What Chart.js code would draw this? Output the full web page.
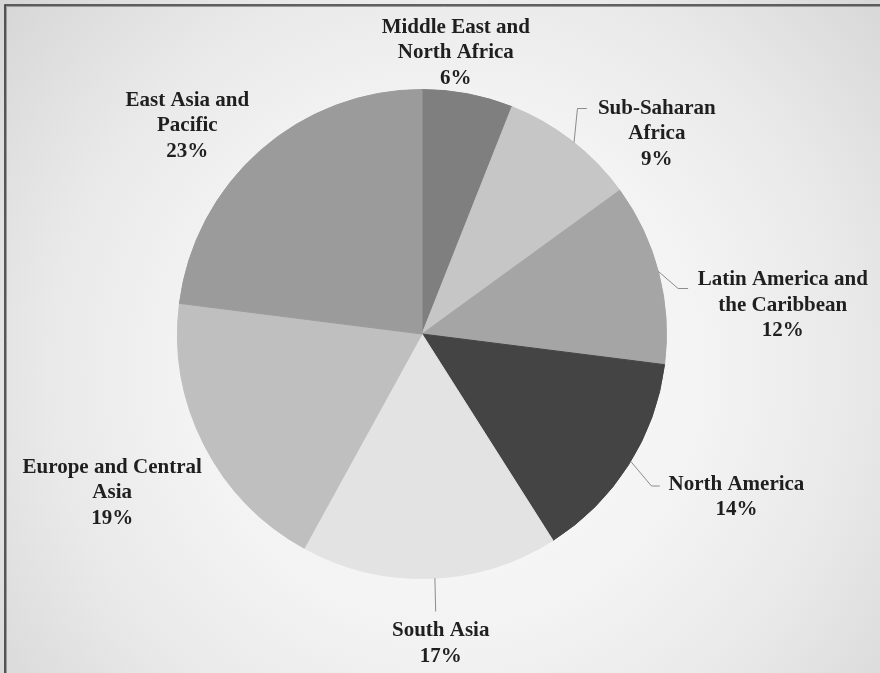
<!DOCTYPE html>
<html>
<head>
<meta charset="utf-8">
<script src="https://cdn.jsdelivr.net/npm/chart.js@4/dist/chart.umd.min.js"></script>
<style>
  html, body { margin: 0; padding: 0; background: #e6e6e6; }
  #wrap { width: 880px; height: 673px; position: relative; }
</style>
</head>
<body>
<div id="wrap"><canvas id="pie" width="880" height="673"></canvas></div>
<script>
// Regional shares (percent), clockwise from 12 o'clock
const regions = [
  "Middle East and North Africa",
  "Sub-Saharan Africa",
  "Latin America and the Caribbean",
  "North America",
  "South Asia",
  "Europe and Central Asia",
  "East Asia and Pacific"
];
const shares = [6, 9, 12, 14, 17, 19, 23];

// How each region name is broken over lines in its label
const labelLines = [
  ["Middle East and", "North Africa"],
  ["Sub-Saharan", "Africa"],
  ["Latin America and", "the Caribbean"],
  ["North America"],
  ["South Asia"],
  ["Europe and Central", "Asia"],
  ["East Asia and", "Pacific"]
];

const sliceColors = ["#7f7f7f", "#c6c6c6", "#a5a5a5", "#444444", "#e3e3e3", "#bfbfbf", "#9b9b9b"];

// Label placement relative to the slice's outer edge at its mid angle
const labelOffset = [
  [-12, -41], [85, -7], [124, 32], [108, 32], [11, 65], [-92, 48], [-73, -25]
];
// Leader lines: [fraction along slice where it starts, elbow dx, elbow dy, end dx, end dy] relative to label centre
const leaders = [
  null,
  [0.52, -79.4, -25.3, -70, -25.3],
  [0.49, -104.7, -16.7, -94.7, -16.7],
  [0.48, -85, -11, -76.7, -11],
  [0.48, -5, -31.8, -5, -31.8],
  null,
  null
];

const total = shares.reduce((a, b) => a + b, 0);
const LINE_H = 25.5;

const backdrop = {
  id: 'backdrop',
  beforeDraw(chart) {
    const ctx = chart.ctx;
    const w = chart.width, h = chart.height;
    ctx.save();
    const g = ctx.createRadialGradient(450, 370, 0, 450, 370, 620);
    g.addColorStop(0, '#fbfbfb');
    g.addColorStop(0.42, '#f3f3f3');
    g.addColorStop(0.65, '#e9e9e9');
    g.addColorStop(1, '#d2d2d2');
    ctx.fillStyle = g;
    ctx.fillRect(0, 0, w, h);
    // frame (top and left edges)
    ctx.strokeStyle = '#9a9a9a';
    ctx.lineWidth = 1;
    ctx.beginPath();
    ctx.moveTo(6.5, h); ctx.lineTo(6.5, 6.5); ctx.lineTo(w, 6.5);
    ctx.stroke();
    ctx.strokeStyle = '#333333';
    ctx.lineWidth = 1.6;
    ctx.beginPath();
    ctx.moveTo(5, h); ctx.lineTo(5, 5); ctx.lineTo(w, 5);
    ctx.stroke();
    ctx.restore();
  }
};

const sliceLabels = {
  id: 'sliceLabels',
  afterDatasetsDraw(chart) {
    const ctx = chart.ctx;
    const arcs = chart.getDatasetMeta(0).data;
    ctx.save();
    arcs.forEach((arc, i) => {
      const { x, y, startAngle, endAngle, outerRadius } = arc.getProps(['x', 'y', 'startAngle', 'endAngle', 'outerRadius'], true);
      const mid = (startAngle + endAngle) / 2;
      const ex = x + Math.cos(mid) * outerRadius;
      const ey = y + Math.sin(mid) * outerRadius;
      const cx = ex + labelOffset[i][0];
      const cy = ey + labelOffset[i][1];

      const ld = leaders[i];
      if (ld) {
        const a = startAngle + (endAngle - startAngle) * ld[0];
        ctx.strokeStyle = '#8c8c8c';
        ctx.lineWidth = 1;
        ctx.beginPath();
        ctx.moveTo(x + Math.cos(a) * outerRadius, y + Math.sin(a) * outerRadius);
        ctx.lineTo(cx + ld[1], cy + ld[2]);
        ctx.lineTo(cx + ld[3], cy + ld[4]);
        ctx.stroke();
      }

      const lines = labelLines[i].concat([Math.round(shares[i] / total * 100) + '%']);
      ctx.fillStyle = '#1f1f1f';
      ctx.font = 'bold 21px "Liberation Serif", "Times New Roman", serif';
      ctx.textAlign = 'center';
      ctx.textBaseline = 'middle';
      lines.forEach((t, k) => {
        ctx.fillText(t, cx, cy + (k - (lines.length - 1) / 2) * LINE_H);
      });
    });
    ctx.restore();
  }
};

new Chart(document.getElementById('pie'), {
  type: 'pie',
  data: {
    labels: regions,
    datasets: [{
      data: shares,
      backgroundColor: sliceColors,
      borderColor: sliceColors,
      borderWidth: 1,
      hoverOffset: 0
    }]
  },
  options: {
    responsive: false,
    devicePixelRatio: 1,
    animation: false,
    layout: { padding: { left: 177, right: 213, top: 89, bottom: 94 } },
    plugins: {
      legend: { display: false },
      tooltip: { enabled: false }
    }
  },
  plugins: [backdrop, sliceLabels]
});
</script>
</body>
</html>
